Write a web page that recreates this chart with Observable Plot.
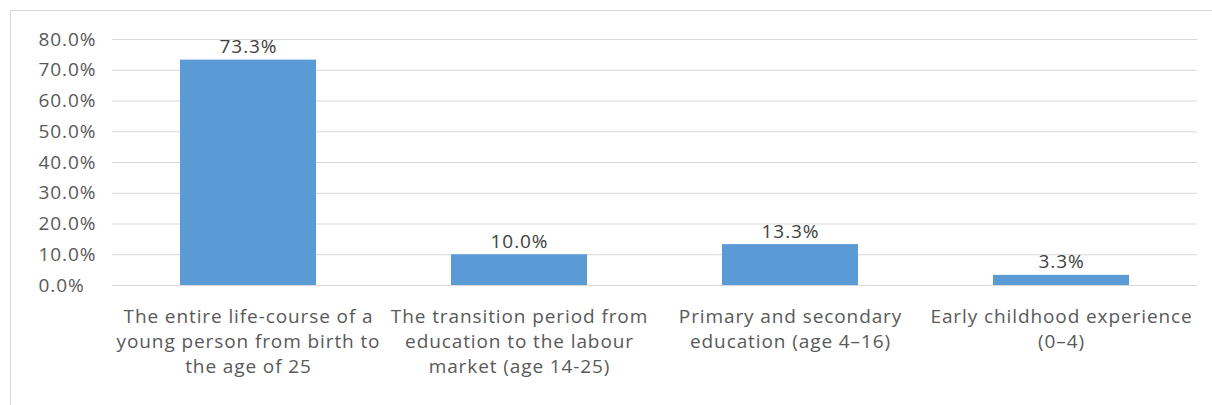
<!DOCTYPE html>
<html>
<head>
<meta charset="utf-8">
<script src="https://cdn.jsdelivr.net/npm/d3@7"></script>
<script src="https://cdn.jsdelivr.net/npm/@observablehq/plot@0.6"></script>
<style>
  html, body { margin: 0; padding: 0; background: #fff; }
  #chart { position: relative; width: 1212px; height: 405px; }
  #frame { position: absolute; left: 10px; top: 10px; width: 1212px; height: 420px; border-left: 1px solid #d9d9d9; border-top: 1px solid #d9d9d9; pointer-events: none; }
  #chart svg text { letter-spacing: 0.9px; }
</style>
</head>
<body>
<div id="chart"><div id="frame"></div></div>
<script>
const categories = [
  "The entire life-course of a\nyoung person from birth to\nthe age of 25",
  "The transition period from\neducation to the labour\nmarket (age 14-25)",
  "Primary and secondary\neducation (age 4–16)",
  "Early childhood experience\n(0–4)"
];
const values = [73.3, 10.0, 13.3, 3.3];
const yTicks = [0, 10, 20, 30, 40, 50, 60, 70, 80];

const data = categories.map((c, i) => ({category: c, value: values[i]}));

const font = "'Open Sans', sans-serif";

const plot = Plot.plot({
  width: 1212,
  height: 405,
  marginLeft: 112,
  marginRight: 15,
  marginTop: 39,
  marginBottom: 120,
  style: {fontFamily: font, background: "transparent", overflow: "visible"},
  x: {domain: categories, paddingInner: 0.5, paddingOuter: 0.25, align: 0.5},
  y: {domain: [0, 80], axis: null},
  marks: [
    Plot.gridY(yTicks, {stroke: "#d9d9d9", strokeOpacity: 1, strokeWidth: 1}),
    Plot.text(yTicks, {y: d => d, text: d => d.toFixed(1) + "%", frameAnchor: "left", textAnchor: "start", dx: -74, fontSize: 19, fill: "#595959"}),
    Plot.barY(data, {x: "category", y: "value", fill: "#5b9bd5"}),
    Plot.text(data, {x: "category", y: "value", text: d => d.value.toFixed(1) + "%", dy: -13, fontSize: 19, fill: "#404040"}),
    Plot.axisX({tickSize: 0, tickPadding: 19, fontSize: 19, fill: "#595959", lineHeight: 1.34, label: null})
  ]
});
document.getElementById("chart").prepend(plot);
</script>
</body>
</html>
